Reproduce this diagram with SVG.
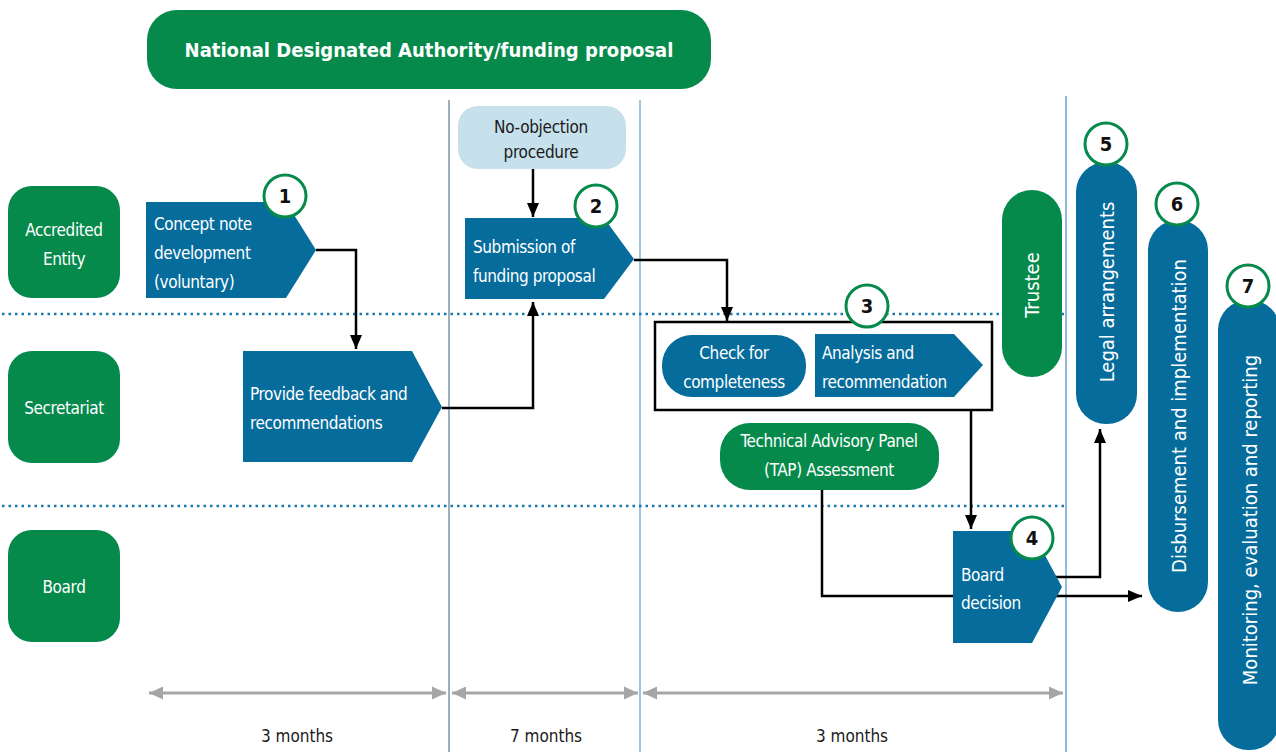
<svg xmlns="http://www.w3.org/2000/svg" width="1276" height="752" viewBox="0 0 1276 752">
<style>
.g{fill:#068a4c}
.b{fill:#066c9c}
.lb{fill:#c6e0ec}
.t{font-family:"DejaVu Sans Condensed","Liberation Sans Narrow","Liberation Sans",sans-serif;fill:#fff;font-size:17px;letter-spacing:-0.4px}
.r{font-family:"DejaVu Sans Condensed","Liberation Sans",sans-serif;fill:#fff;font-size:20px}
.td{font-family:"DejaVu Sans Condensed","Liberation Sans",sans-serif;fill:#1a1a1a;font-size:17px}
.num{font-family:"DejaVu Sans Condensed","Liberation Sans",sans-serif;font-weight:bold;fill:#111;font-size:20px}
.circ{fill:#fff;stroke:#068a4c;stroke-width:3}
.con{fill:none;stroke:#000;stroke-width:2.5}
.dot{stroke:#1a77ae;stroke-width:2.5;stroke-dasharray:2.5 4}
.dur{stroke:#a6a6a6;stroke-width:3}
</style>
<defs>
<marker id="ah" markerUnits="userSpaceOnUse" markerWidth="15" markerHeight="14" refX="14" refY="7" orient="auto">
<path d="M0,1 L14,7 L0,13 Z" fill="#000"/>
</marker>
<marker id="gh" markerUnits="userSpaceOnUse" markerWidth="15" markerHeight="15" refX="14" refY="7.5" orient="auto-start-reverse">
<path d="M0,1 L14,7.5 L0,14 Z" fill="#a6a6a6"/>
</marker>
</defs>
<rect width="1276" height="752" fill="#fff"/>

<g id="separators">
<line x1="449" y1="100" x2="449" y2="752" stroke="#3d5d78" stroke-width="1"/>
<line x1="640" y1="100" x2="640" y2="752" stroke="#5aa2cc" stroke-width="1.2"/>
<line x1="1066" y1="96" x2="1066" y2="752" stroke="#4a8fc0" stroke-width="1.2"/>
<line class="dot" x1="2" y1="314" x2="1068" y2="314"/>
<line class="dot" x1="2" y1="506" x2="1068" y2="506"/>
</g>

<g id="banner">
<rect class="g" x="147" y="10" width="564" height="79" rx="30"/>
<text x="429" y="57" text-anchor="middle" font-family="'DejaVu Sans Condensed','Liberation Sans',sans-serif" font-weight="bold" font-size="20" fill="#fff">National Designated Authority/funding proposal</text>
</g>

<g id="lane-accredited">
<rect class="g" x="8" y="186" width="112" height="112" rx="24"/>
<text class="t" x="64" y="236" text-anchor="middle">Accredited</text>
<text class="t" x="64" y="265" text-anchor="middle">Entity</text>
</g>
<g id="lane-secretariat">
<rect class="g" x="8" y="351" width="112" height="112" rx="24"/>
<text class="t" x="64" y="414" text-anchor="middle">Secretariat</text>
</g>
<g id="lane-board">
<rect class="g" x="8" y="530" width="112" height="112" rx="24"/>
<text class="t" x="64" y="593" text-anchor="middle">Board</text>
</g>

<g id="connectors">
<polyline class="con" points="316,250 356,250 356,349" marker-end="url(#ah)"/>
<polyline class="con" points="442,408 533,408 533,302" marker-end="url(#ah)"/>
<polyline class="con" points="533,169 533,217" marker-end="url(#ah)"/>
<polyline class="con" points="634,260 727,260 727,321" marker-end="url(#ah)"/>
<polyline class="con" points="971,410 971,529" marker-end="url(#ah)"/>
<polyline class="con" points="822,489 822,596 1142,596" marker-end="url(#ah)"/>
<polyline class="con" points="1050,577 1100,577 1100,429" marker-end="url(#ah)"/>
<line class="dur" x1="149" y1="693" x2="446" y2="693" marker-start="url(#gh)" marker-end="url(#gh)"/>
<line class="dur" x1="452" y1="693" x2="638" y2="693" marker-start="url(#gh)" marker-end="url(#gh)"/>
<line class="dur" x1="643" y1="693" x2="1063" y2="693" marker-start="url(#gh)" marker-end="url(#gh)"/>
</g>

<g id="node-concept">
<polygon class="b" points="146,202 286,202 316,250 286,298 146,298"/>
<text class="t" x="154" y="230">Concept note</text>
<text class="t" x="154" y="259">development</text>
<text class="t" x="154" y="288">(voluntary)</text>
<circle class="circ" cx="285" cy="196" r="21"/>
<text class="num" x="285" y="203" text-anchor="middle">1</text>
</g>

<g id="node-noobjection">
<rect class="lb" x="458" y="106" width="168" height="63" rx="20"/>
<text class="td" x="541" y="133" text-anchor="middle" font-size="15" letter-spacing="-0.3">No-objection</text>
<text class="td" x="541" y="158" text-anchor="middle" font-size="15" letter-spacing="-0.3">procedure</text>
</g>

<g id="node-submission">
<polygon class="b" points="465,218 604,218 634,259 604,299 465,299"/>
<text class="t" x="473" y="253">Submission of</text>
<text class="t" x="473" y="282">funding proposal</text>
<circle class="circ" cx="596" cy="206" r="21"/>
<text class="num" x="596" y="213" text-anchor="middle">2</text>
</g>

<g id="node-feedback">
<polygon class="b" points="243,351 412,351 442,407 412,462 243,462"/>
<text class="t" x="250" y="400">Provide feedback and</text>
<text class="t" x="250" y="429">recommendations</text>
</g>

<g id="node-step3">
<rect x="655" y="322" width="337" height="88" fill="#fff" stroke="#000" stroke-width="2.5"/>
<rect class="b" x="662" y="335" width="144" height="62" rx="30"/>
<text class="t" x="734" y="359" text-anchor="middle">Check for</text>
<text class="t" x="734" y="388" text-anchor="middle">completeness</text>
<polygon class="b" points="815,334 954,334 983,365 954,397 815,397"/>
<text class="t" x="822" y="359">Analysis and</text>
<text class="t" x="822" y="388">recommendation</text>
<circle class="circ" cx="867" cy="306" r="21"/>
<text class="num" x="867" y="313" text-anchor="middle">3</text>
</g>

<g id="node-tap">
<rect class="g" x="720" y="423" width="219" height="67" rx="30"/>
<text class="t" x="829" y="447" text-anchor="middle">Technical Advisory Panel</text>
<text class="t" x="829" y="476" text-anchor="middle">(TAP) Assessment</text>
</g>

<g id="node-board">
<polygon class="b" points="953,531 1032,531 1062,587 1032,643 953,643"/>
<text class="t" x="961" y="581">Board</text>
<text class="t" x="961" y="609">decision</text>
<circle class="circ" cx="1032" cy="538" r="21"/>
<text class="num" x="1032" y="545" text-anchor="middle">4</text>
</g>

<g id="node-trustee">
<rect class="g" x="1002" y="190" width="60" height="187" rx="30"/>
<text class="r" transform="translate(1039,285) rotate(-90)" text-anchor="middle">Trustee</text>
</g>

<g id="node-legal">
<rect class="b" x="1076" y="162" width="61" height="262" rx="30"/>
<text class="r" font-size="21" transform="translate(1114,292) rotate(-90)" text-anchor="middle">Legal arrangements</text>
<circle class="circ" cx="1106" cy="144" r="21"/>
<text class="num" x="1106" y="151" text-anchor="middle">5</text>
</g>

<g id="node-disbursement">
<rect class="b" x="1148" y="220" width="60" height="392" rx="30"/>
<text class="r" font-size="21.5" transform="translate(1186,416) rotate(-90)" text-anchor="middle">Disbursement and implementation</text>
<circle class="circ" cx="1177" cy="204" r="21"/>
<text class="num" x="1177" y="211" text-anchor="middle">6</text>
</g>

<g id="node-monitoring">
<rect class="b" x="1218" y="300" width="62" height="450" rx="30"/>
<text class="r" font-size="20.5" transform="translate(1257,520) rotate(-90)" text-anchor="middle">Monitoring, evaluation and reporting</text>
<circle class="circ" cx="1248" cy="286" r="21"/>
<text class="num" x="1248" y="293" text-anchor="middle">7</text>
</g>

<g id="durations">
<text class="td" x="297" y="742" text-anchor="middle" font-size="18.5">3 months</text>
<text class="td" x="546" y="742" text-anchor="middle" font-size="18.5">7 months</text>
<text class="td" x="852" y="742" text-anchor="middle" font-size="18.5">3 months</text>
</g>
</svg>
